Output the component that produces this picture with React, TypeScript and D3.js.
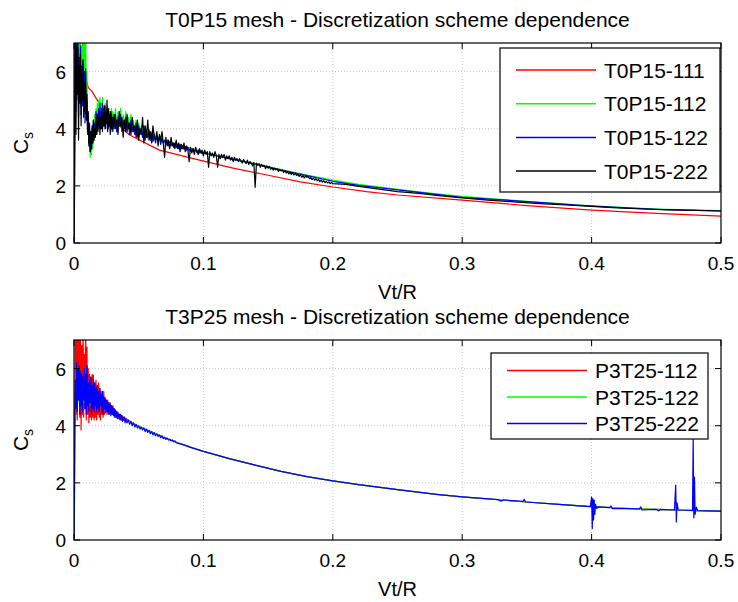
import React from 'react';
import * as d3 from 'd3';

type P = [number, number];

const xTicks = [0, 0.1, 0.2, 0.3, 0.4, 0.5];
const yTicks = [0, 2, 4, 6];
const xLabel = 'Vt/R';
const titles = [
  'T0P15 mesh - Discretization scheme dependence',
  'T3P25 mesh - Discretization scheme dependence',
];
const topNames = ['T0P15-111', 'T0P15-112', 'T0P15-122', 'T0P15-222'];
const botNames = ['P3T25-112', 'P3T25-122', 'P3T25-222'];
const topColors = ['#ff0000', '#00ff00', '#0000ff', '#000000'];
const botColors = ['#ff0000', '#00ff00', '#0000ff'];

// Sampling of the dense (noisy) parts of the records
const STEP_FINE = 0.0005; // from Vt/R = 0
const STEP_MID = 0.001; // from Vt/R = 0.03 (top) / 0.04 (bottom)

// ---- Top panel: T0P15-111 (smooth) ----
const t111: P[] = [
  [0, 0], [0.0008, 3], [0.0015, 7.5], [0.003, 7.6], [0.006, 7.3], [0.009, 5.8], [0.011, 5.45], [0.014, 5.3],
  [0.018, 5.0], [0.022, 4.7], [0.03, 4.3], [0.043, 3.78], [0.066, 3.25], [0.097, 2.9], [0.123, 2.62],
  [0.149, 2.38], [0.175, 2.14], [0.2, 1.96], [0.226, 1.8], [0.25, 1.68], [0.3, 1.5], [0.35, 1.31],
  [0.4, 1.15], [0.45, 1.04], [0.5, 0.94],
];

// ---- Top panel: T0P15-112 ----
const t112Fine = [
  0, 4.0, 7.5, 5.2, 7.5, 5.0, 7.2, 5.5, 7.0, 4.9, 7.3, 5.2, 6.9, 5.0, 7.5, 5.3, 7.5, 4.9, 7.5, 5.0,
  6.0, 4.2, 4.5, 3.4, 3.8, 3.0, 3.6, 3.1, 3.9, 3.3, 4.2, 3.6, 4.5, 3.9, 4.7, 4.0, 4.9, 4.2, 5.0, 4.3,
  5.1, 4.2, 4.9, 4.4, 5.1, 4.3, 4.8, 4.2, 4.9, 4.1, 4.7, 4.3, 4.8, 4.1, 4.7, 4.2, 4.6, 4.0, 4.7, 4.2,
];
const t112Mid = [
  4.6, 4.1, 4.7, 4.0, 4.6, 4.2, 4.7, 4.0, 4.5, 4.1, 4.6, 3.9, 4.4, 4.0, 4.5, 3.9, 4.3, 3.9, 4.3, 3.8,
  4.2, 3.8, 4.1, 3.7, 4.1, 3.7, 4.0, 3.65, 3.95, 3.6, 3.9, 3.6, 3.85, 3.55, 3.8, 3.55, 3.75, 3.5, 3.7, 3.5,
];
const t112Tail: P[] = [
  [0.075, 3.52], [0.08, 3.45], [0.09, 3.32], [0.1, 3.18], [0.12, 2.97], [0.14, 2.78], [0.16, 2.57],
  [0.18, 2.38], [0.2, 2.2], [0.22, 2.05], [0.25, 1.88], [0.28, 1.72], [0.3, 1.63], [0.35, 1.46],
  [0.4, 1.3], [0.45, 1.19], [0.5, 1.13],
];

// ---- Top panel: T0P15-122 ----
const t122Fine = [
  0, 5.0, 7.5, 4.6, 7.0, 5.3, 6.8, 4.4, 6.5, 5.0, 6.9, 4.5, 6.2, 4.8, 6.4, 4.6, 6.0, 4.2, 5.4, 4.5,
  5.0, 3.8, 4.4, 3.4, 4.0, 3.2, 3.8, 3.3, 4.0, 3.5, 4.3, 3.7, 4.2, 3.9, 4.6, 3.8, 4.5, 4.0, 4.7, 4.1,
  4.9, 4.0, 4.6, 4.2, 4.9, 4.1, 4.7, 4.3, 4.8, 4.0, 4.6, 4.2, 4.7, 4.0, 4.5, 4.1, 4.6, 3.9, 4.5, 4.1,
];
const t122Mid = [
  4.4, 4.0, 4.5, 3.9, 4.4, 4.1, 4.5, 3.9, 4.3, 4.0, 4.4, 3.9, 4.2, 3.8, 4.3, 3.9, 4.1, 3.8, 4.2, 3.7,
  4.1, 3.8, 4.0, 3.7, 4.1, 3.6, 3.9, 3.7, 3.95, 3.6, 3.85, 3.55, 3.8, 3.5, 3.75, 3.55, 3.7, 3.45, 3.65, 3.5,
  3.6, 3.45, 3.6, 3.4, 3.55, 3.4, 3.5, 3.35, 3.5, 3.35, 3.45, 3.3, 3.45, 3.3, 3.4, 3.28, 3.38, 3.25, 3.35, 3.22,
  3.32, 3.22, 3.3, 3.18, 3.28, 3.16, 3.25, 3.15, 3.22, 3.12,
];
const t122Tail: P[] = [
  [0.1, 3.15], [0.12, 2.95], [0.14, 2.76], [0.16, 2.55], [0.18, 2.36], [0.2, 2.16], [0.22, 2.02],
  [0.25, 1.86], [0.28, 1.7], [0.3, 1.6], [0.35, 1.45], [0.4, 1.29], [0.45, 1.18], [0.5, 1.12],
];

// ---- Top panel: T0P15-222 ----
const t222Fine = [
  0, 4.5, 7.5, 3.8, 6.9, 5.2, 7.4, 3.6, 6.2, 4.9, 6.6, 4.1, 5.9, 5.0, 6.4, 4.4, 5.6, 4.7, 6.1, 4.3,
  5.2, 3.9, 4.6, 3.5, 4.2, 3.2, 3.9, 3.3, 4.1, 3.5, 4.3, 3.6, 4.0, 3.7, 4.4, 3.8, 4.5, 3.9, 4.2, 4.6,
  3.8, 4.4, 4.0, 4.7, 3.9, 4.5, 4.1, 4.8, 4.0, 4.6, 4.2, 5.0, 3.9, 4.7, 4.1, 4.5, 3.8, 4.6, 4.0, 4.4,
];
const t222Mid = [
  3.9, 4.5, 4.0, 4.3, 3.8, 4.6, 4.1, 4.4, 3.7, 4.3,
  3.9, 4.5, 4.0, 4.2, 3.8, 4.4, 3.9, 4.1, 3.7, 4.3,
  3.6, 4.0, 3.8, 4.4, 3.5, 4.1, 3.7, 4.3, 3.6, 3.9,
  3.5, 4.1, 3.7, 3.6, 3.9, 3.4, 3.8, 3.6, 3.9, 3.5,
  3.0, 3.7, 3.4, 3.6, 3.3, 3.7, 3.4, 3.5, 3.3, 3.6,
  3.3, 3.5, 3.2, 3.45, 3.3, 3.5, 3.2, 3.4, 3.25, 2.85,
  3.35, 3.15, 3.3, 3.1, 3.35, 3.2, 3.1, 3.3, 3.15, 3.25,
  3.05, 3.25, 3.1, 3.2, 2.65, 3.2, 3.05, 3.15, 3.0, 3.2,
  3.05, 2.65, 3.1, 2.95, 3.1, 3.0, 3.1, 2.9, 3.05, 2.95,
  3.05, 2.9, 3.0, 2.85, 3.0, 2.9, 2.95, 2.85, 2.95, 2.88,
  2.8, 2.92, 2.85, 2.78, 2.9, 2.75, 2.85, 2.78, 2.7, 2.82,
  1.95, 2.8, 2.72, 2.78, 2.65, 2.75, 2.68, 2.72, 2.6, 2.7,
  2.62, 2.68, 2.58, 2.64, 2.55, 2.62, 2.56, 2.6, 2.5, 2.58,
  2.52, 2.56, 2.47, 2.53, 2.45, 2.5, 2.42, 2.48, 2.4, 2.46,
  2.38, 2.44, 2.36, 2.41, 2.33, 2.39, 2.3, 2.36, 2.28, 2.34,
  2.3, 2.33, 2.25, 2.29, 2.22, 2.27, 2.2, 2.25, 2.18, 2.22,
  2.15, 2.2, 2.13, 2.18, 2.11, 2.16, 2.1, 2.14, 2.08, 2.12,
];
const t222Tail: P[] = [
  [0.2, 2.08], [0.21, 2.05], [0.22, 1.98], [0.23, 1.92], [0.24, 1.86], [0.25, 1.8], [0.26, 1.76],
  [0.27, 1.72], [0.28, 1.67], [0.29, 1.62], [0.3, 1.58], [0.32, 1.5], [0.34, 1.44], [0.36, 1.38],
  [0.38, 1.33], [0.4, 1.28], [0.42, 1.23], [0.44, 1.19], [0.46, 1.16], [0.48, 1.14], [0.5, 1.12],
];

// ---- Bottom panel: P3T25-112 ----
const p112Fine = [
  0, 1.8, 7.5, 4.4, 7.5, 4.2, 7.5, 4.9, 7.5, 4.3, 7.2, 3.85, 6.8, 4.4, 7.5, 4.3, 6.5, 4.6, 7.5, 4.2,
  6.75, 4.4, 6.0, 4.1, 5.8, 4.3, 5.7, 4.2, 5.8, 4.3, 5.77, 4.2, 5.5, 4.3, 5.6, 4.2, 5.4, 4.4, 5.5, 4.3,
  5.3, 4.2, 5.2, 4.4, 5.1, 4.3, 5.2, 4.4, 5.0, 4.5, 4.9, 4.4, 4.9, 4.5, 4.8, 4.4, 4.8, 4.45, 4.7, 4.4,
  4.7, 4.4, 4.6, 4.35, 4.55, 4.3, 4.5, 4.3, 4.45, 4.25, 4.4, 4.25, 4.35, 4.2, 4.35, 4.2, 4.3, 4.2, 4.3, 4.2,
];
const p112Tail: P[] = [
  [0.04, 4.25], [0.045, 4.1], [0.05, 3.98], [0.06, 3.78], [0.07, 3.58], [0.08, 3.4], [0.1, 3.1],
  [0.12, 2.85], [0.14, 2.62], [0.16, 2.4], [0.18, 2.22], [0.2, 2.07], [0.22, 1.94], [0.25, 1.76],
  [0.28, 1.6], [0.3, 1.51], [0.33, 1.4], [0.35, 1.33], [0.38, 1.23], [0.4, 1.17], [0.43, 1.1],
  [0.45, 1.07], [0.48, 1.03], [0.5, 1.01],
];

// ---- Bottom panel: P3T25-122 ----
const p122: P[] = [
  [0, 0], [0.001, 5.2], [0.002, 6.0], [0.003, 4.8], [0.004, 5.8], [0.005, 4.7], [0.006, 5.6], [0.008, 4.8],
  [0.01, 5.5], [0.012, 4.7], [0.015, 5.2], [0.018, 4.6], [0.02, 5.0], [0.025, 4.6], [0.03, 4.45],
  [0.04, 4.22], [0.05, 3.98], [0.06, 3.78], [0.07, 3.58], [0.08, 3.4], [0.1, 3.1], [0.12, 2.85],
  [0.14, 2.62], [0.16, 2.4], [0.18, 2.22], [0.2, 2.07], [0.22, 1.94], [0.25, 1.76], [0.28, 1.6],
  [0.3, 1.51], [0.33, 1.4], [0.35, 1.33], [0.38, 1.23], [0.4, 1.17], [0.43, 1.1], [0.45, 1.07],
  [0.48, 1.03], [0.5, 1.01],
];

// ---- Bottom panel: P3T25-222 ----
const p222Fine = [
  0, 3.5, 5.6, 4.6, 6.2, 4.5, 6.0, 4.9, 6.1, 4.4, 5.9, 4.7, 5.8, 4.5, 5.7, 4.9, 6.0, 4.6, 5.8, 4.4,
  6.1, 4.7, 5.5, 4.5, 5.6, 4.8, 5.7, 4.4, 5.4, 4.6, 5.6, 4.5, 5.5, 4.7, 5.3, 4.5, 5.4, 4.6, 5.2, 4.5,
  5.3, 4.7, 5.1, 4.5, 5.2, 4.4, 5.0, 4.6, 4.95, 4.45, 4.9, 4.5, 4.85, 4.4, 4.8, 4.45, 4.75, 4.35, 4.7, 4.4,
  4.65, 4.35, 4.6, 4.3, 4.55, 4.3, 4.5, 4.25, 4.45, 4.3, 4.4, 4.2, 4.4, 4.2, 4.35, 4.15, 4.3, 4.2, 4.3, 4.1,
];
const p222Mid = [
  4.25, 4.1, 4.2, 4.05, 4.15, 4.0, 4.1, 3.95, 4.05, 3.92, 4.0, 3.88, 3.95, 3.85, 3.92, 3.8, 3.88, 3.76, 3.84, 3.72,
  3.8, 3.68, 3.76, 3.65, 3.72, 3.62, 3.68, 3.58, 3.65, 3.55, 3.6, 3.52, 3.57, 3.5, 3.53, 3.47, 3.5, 3.44, 3.47, 3.41,
];
const p222Tail: P[] = [
  [0.085, 3.33], [0.09, 3.24], [0.1, 3.1], [0.12, 2.85], [0.14, 2.62], [0.16, 2.4], [0.18, 2.22],
  [0.2, 2.07], [0.22, 1.94], [0.25, 1.76], [0.28, 1.6], [0.3, 1.51], [0.328, 1.41], [0.33, 1.36],
  [0.332, 1.4], [0.347, 1.35], [0.348, 1.42], [0.349, 1.33], [0.38, 1.23], [0.399, 1.17], [0.4, 1.5],
  [0.4005, 0.4], [0.401, 1.45], [0.4015, 0.7], [0.402, 1.4], [0.4025, 0.9], [0.403, 1.25], [0.404, 1.1],
  [0.405, 1.16], [0.414, 1.13], [0.415, 1.19], [0.416, 1.1], [0.43, 1.1], [0.437, 1.09], [0.438, 1.16],
  [0.439, 1.05], [0.45, 1.07], [0.452, 1.02], [0.453, 1.07], [0.464, 1.05], [0.465, 1.92], [0.4655, 0.63],
  [0.466, 1.3], [0.467, 1.05], [0.478, 1.04], [0.4785, 3.57], [0.479, 0.77], [0.4795, 2.2], [0.48, 0.9],
  [0.481, 1.15], [0.482, 1.03], [0.49, 1.02], [0.5, 1.01],
];

const sampled = (x0: number, dx: number, ys: number[]): P[] => ys.map((v, i) => [x0 + i * dx, v] as P);

const t112: P[] = [...sampled(0, STEP_FINE, t112Fine), ...sampled(0.03, STEP_MID, t112Mid), ...t112Tail];
const t122: P[] = [...sampled(0, STEP_FINE, t122Fine), ...sampled(0.03, STEP_MID, t122Mid), ...t122Tail];
const t222: P[] = [...sampled(0, STEP_FINE, t222Fine), ...sampled(0.03, STEP_MID, t222Mid), ...t222Tail];
const p112: P[] = [...sampled(0, STEP_FINE, p112Fine), ...p112Tail];
const p222: P[] = [...sampled(0, STEP_FINE, p222Fine), ...sampled(0.04, STEP_MID, p222Mid), ...p222Tail];

const FONT = '"Liberation Sans", Arial, Helvetica, sans-serif';
const L = 74;
const R = 721;

type PanelProps = {
  idx: number;
  top: number;
  title: string;
  names: string[];
  colors: string[];
  series: P[][];
  legend: { x: number; y: number; w: number; h: number; first: number; step: number };
};

function Panel({ idx, top, title, names, colors, series, legend }: PanelProps) {
  const bottom = top + 200;
  const x = d3.scaleLinear().domain([0, 0.5]).range([L, R]);
  const y = d3.scaleLinear().domain([0, 7]).range([bottom, top]);
  const line = d3.line<P>().x((d) => x(d[0])).y((d) => y(d[1]));
  const clipId = `clip${idx}`;
  const midX = (L + R) / 2;
  const midY = (top + bottom) / 2;
  return (
    <g>
      <defs>
        <clipPath id={clipId}>
          <rect x={L} y={top} width={R - L} height={bottom - top} />
        </clipPath>
      </defs>
      <rect x={L} y={top} width={R - L} height={bottom - top} fill="#fff" />
      {xTicks.slice(1, -1).map((t) => (
        <line key={'gx' + t} x1={x(t)} x2={x(t)} y1={top} y2={bottom} stroke="#c8c8c8" strokeWidth={1} strokeDasharray="1,2" />
      ))}
      {yTicks.slice(1).map((t) => (
        <line key={'gy' + t} x1={L} x2={R} y1={y(t)} y2={y(t)} stroke="#c8c8c8" strokeWidth={1} strokeDasharray="1,2" />
      ))}
      <g clipPath={`url(#${clipId})`}>
        {series.map((s, i) => (
          <path key={i} d={line(s) || ''} fill="none" stroke={colors[i]} strokeWidth={1.2} strokeLinejoin="round" />
        ))}
      </g>
      {xTicks.map((t) => (
        <g key={'tx' + t}>
          <line x1={x(t)} x2={x(t)} y1={bottom} y2={bottom - 6} stroke="#000" />
          <line x1={x(t)} x2={x(t)} y1={top} y2={top + 6} stroke="#000" />
          <text x={x(t)} y={bottom + 27} textAnchor="middle" fontSize={19} fontFamily={FONT}>
            {String(t)}
          </text>
        </g>
      ))}
      {yTicks.map((t) => (
        <g key={'ty' + t}>
          <line x1={L} x2={L + 6} y1={y(t)} y2={y(t)} stroke="#000" />
          <line x1={R - 6} x2={R} y1={y(t)} y2={y(t)} stroke="#000" />
          <text x={L - 8} y={y(t) + 7} textAnchor="end" fontSize={19} fontFamily={FONT}>
            {String(t)}
          </text>
        </g>
      ))}
      <rect x={L} y={top} width={R - L} height={bottom - top} fill="none" stroke="#000" strokeWidth={1.2} />
      <text x={midX} y={top - 16} textAnchor="middle" fontSize={21} fontFamily={FONT}>
        {title}
      </text>
      <text x={midX} y={bottom + 56} textAnchor="middle" fontSize={20} fontFamily={FONT}>
        {xLabel}
      </text>
      <text transform={`translate(28,${midY}) rotate(-90)`} textAnchor="middle" fontSize={21} fontFamily={FONT}>
        C<tspan fontSize={14} dy={5}>s</tspan>
      </text>
      <rect x={legend.x} y={legend.y} width={legend.w} height={legend.h} fill="#fff" stroke="#000" strokeWidth={1.2} />
      {names.map((n, i) => {
        const ly = legend.first + i * legend.step;
        return (
          <g key={n}>
            <line x1={legend.x + 16} x2={legend.x + 96} y1={ly} y2={ly} stroke={colors[i]} strokeWidth={1.5} />
            <text x={legend.x + 104} y={ly + 7.5} fontSize={21} fontFamily={FONT}>
              {n}
            </text>
          </g>
        );
      })}
    </g>
  );
}

export default function App() {
  return (
    <svg width={738} height={602} style={{ position: 'absolute', left: 0, top: 0, background: '#fff' }}>
      <rect width={738} height={602} fill="#fff" />
      <Panel
        idx={0}
        top={43}
        title={titles[0]}
        names={topNames}
        colors={topColors}
        series={[t111, t112, t122, t222]}
        legend={{ x: 500, y: 48, w: 220, h: 144, first: 70, step: 33.7 }}
      />
      <Panel
        idx={1}
        top={340}
        title={titles[1]}
        names={botNames}
        colors={botColors}
        series={[p112, p122, p222]}
        legend={{ x: 491, y: 353, w: 217, h: 86, first: 370.5, step: 26.5 }}
      />
    </svg>
  );
}
